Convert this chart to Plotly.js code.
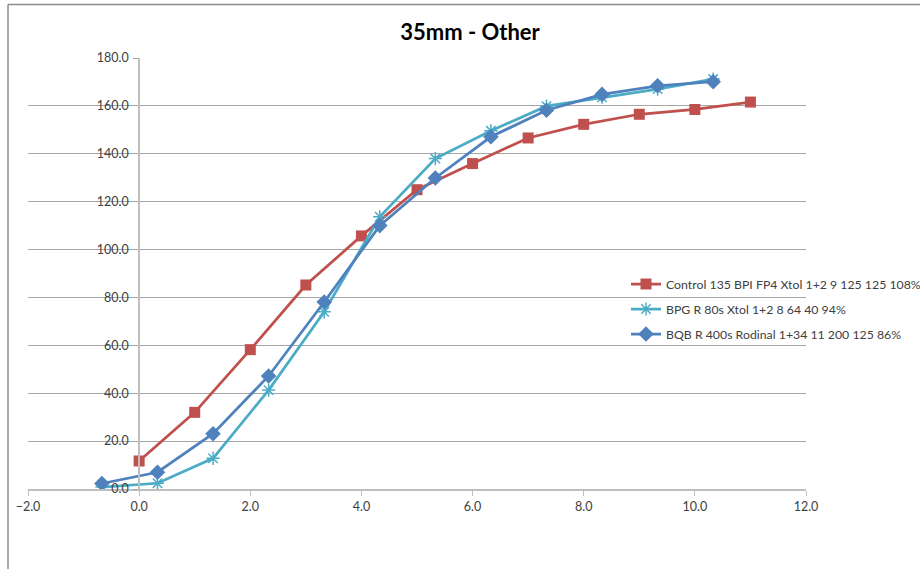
<!DOCTYPE html>
<html>
<head>
<meta charset="utf-8">
<script src="https://cdn.plot.ly/plotly-3.0.1.min.js"></script>
<style>
  html, body { margin: 0; padding: 0; background: #ffffff; }
  #chart { width: 920px; height: 569px; }
</style>
</head>
<body>
<div id="chart"></div>
<script>
// Control series: exposure steps and measured density values
const controlName = 'Control 135 BPI FP4 Xtol 1+2 9 125 125 108%';
const controlX = [0, 1, 2, 3, 4, 5, 6, 7, 8, 9, 10, 11];
const controlY = [11.7, 32.0, 58.2, 85.2, 105.7, 125.0, 135.9, 146.6, 152.3, 156.5, 158.5, 161.6];

// BPG series
const bpgName = 'BPG R 80s Xtol 1+2 8 64 40 94%';
const bpgX = [-0.67, 0.33, 1.33, 2.33, 3.33, 4.33, 5.33, 6.33, 7.33, 8.33, 9.33, 10.33];
const bpgY = [0.8, 2.4, 12.8, 41.3, 74.0, 113.7, 138.0, 149.6, 159.9, 163.6, 167.0, 171.2];

// BQB series
const bqbName = 'BQB R 400s Rodinal 1+34 11 200 125 86%';
const bqbX = [-0.67, 0.33, 1.33, 2.33, 3.33, 4.33, 5.33, 6.33, 7.33, 8.33, 9.33, 10.33];
const bqbY = [2.3, 7.0, 23.1, 47.2, 78.1, 110.0, 129.9, 147.1, 158.2, 164.8, 168.4, 170.1];

// Axis tick values
const xTicks = [-2, 0, 2, 4, 6, 8, 10, 12];
const yTicks = [0, 20, 40, 60, 80, 100, 120, 140, 160, 180];

const FONT = 'Lato, "Open Sans", sans-serif';
const RED = '#C0504D', CYAN = '#4BACC6', BLUE = '#4F81BD';

const traces = [
  {
    x: controlX, y: controlY, name: controlName, legendgroup: 'a',
    type: 'scatter', mode: 'lines+markers',
    line: { color: RED, width: 2.75 },
    marker: { symbol: 'square', size: 11, color: RED }
  },
  {
    x: bpgX, y: bpgY, name: bpgName, legendgroup: 'b',
    type: 'scatter', mode: 'lines+markers',
    line: { color: CYAN, width: 2.75 },
    marker: { symbol: 'asterisk-open', size: 11, color: CYAN, line: { color: CYAN, width: 1.5 } }
  },
  {
    x: bqbX, y: bqbY, name: bqbName, legendgroup: 'c',
    type: 'scatter', mode: 'lines+markers',
    line: { color: BLUE, width: 2.75 },
    marker: { symbol: 'diamond', size: 12, color: BLUE }
  }
];

// Chart frame lines along the top and left edges
const frameX = -20 / 778, frameTop = (489 - 4.5) / 431, frameBottom = -90 / 431, frameRight = 900 / 778;

const layout = {
  width: 920, height: 569,
  margin: { l: 28, r: 114, t: 58, b: 80, autoexpand: false },
  paper_bgcolor: '#ffffff', plot_bgcolor: '#ffffff',
  font: { family: FONT, size: 12, color: '#404040' },
  title: {
    text: '<b>35mm - Other</b>',
    font: { family: FONT, size: 22, color: '#000000' },
    x: 470 / 920, xanchor: 'center', xref: 'container',
    y: 1 - 32 / 569, yanchor: 'middle', yref: 'container'
  },
  xaxis: {
    range: [-2, 12], tickvals: xTicks, tickformat: '.1f',
    showgrid: false, zeroline: false,
    showline: true, linecolor: '#BFBFBF', linewidth: 1.5,
    ticks: 'outside', ticklen: 5, tickcolor: '#BFBFBF', tickwidth: 1,
    tickfont: { family: FONT, size: 12.5, color: '#404040' }
  },
  yaxis: {
    range: [0, 180], tickvals: yTicks, tickformat: '.1f',
    anchor: 'free', position: 2 / 14,
    showgrid: true, gridcolor: '#A6A6A6', gridwidth: 1,
    zeroline: false,
    showline: true, linecolor: '#BFBFBF', linewidth: 2,
    ticks: 'outside', ticklen: 5, tickcolor: '#A6A6A6',
    ticklabelstandoff: 2,
    tickfont: { family: FONT, size: 12.5, color: '#404040' }
  },
  legend: {
    x: (626 - 28) / 778, xanchor: 'left',
    y: (489 - 309) / 431, yanchor: 'middle',
    bgcolor: 'rgba(0,0,0,0)',
    font: { family: FONT, size: 12.3, color: '#404040' },
    tracegroupgap: 6,
    itemwidth: 30
  },
  showlegend: true,
  shapes: [
    { type: 'line', xref: 'paper', yref: 'paper', x0: frameX, x1: frameX, y0: frameBottom, y1: frameTop,
      line: { color: '#8C8C8C', width: 1.5 } },
    { type: 'line', xref: 'paper', yref: 'paper', x0: frameX, x1: frameRight, y0: frameTop, y1: frameTop,
      line: { color: '#8C8C8C', width: 1.5 } }
  ]
};

Plotly.newPlot('chart', traces, layout, { displayModeBar: false, staticPlot: true });
</script>
</body>
</html>
